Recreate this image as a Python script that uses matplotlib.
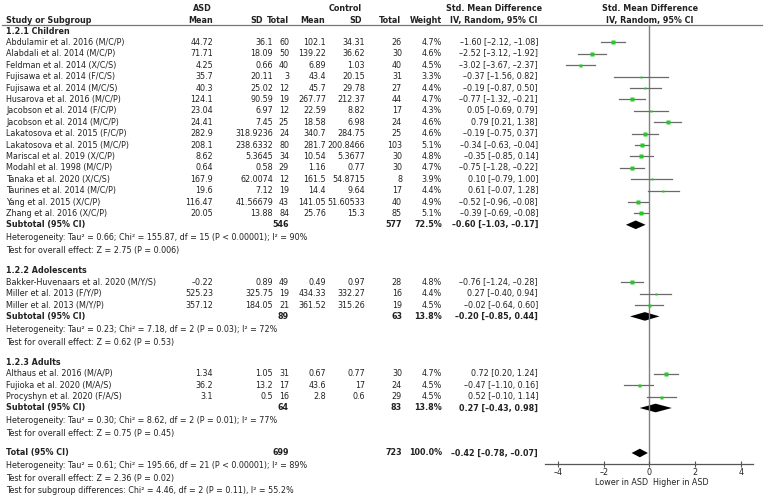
import matplotlib.pyplot as plt
from matplotlib.patches import Polygon

# ---- data ----
children_names = [
    "Abdulamir et al. 2016 (M/C/P)", "Alabdali et al. 2014 (M/C/P)",
    "Feldman et al. 2014 (X/C/S)", "Fujisawa et al. 2014 (F/C/S)",
    "Fujisawa et al. 2014 (M/C/S)", "Husarova et al. 2016 (M/C/P)",
    "Jacobson et al. 2014 (F/C/P)", "Jacobson et al. 2014 (M/C/P)",
    "Lakatosova et al. 2015 (F/C/P)", "Lakatosova et al. 2015 (M/C/P)",
    "Mariscal et al. 2019 (X/C/P)", "Modahl et al. 1998 (M/C/P)",
    "Tanaka et al. 2020 (X/C/S)", "Taurines et al. 2014 (M/C/P)",
    "Yang et al. 2015 (X/C/P)", "Zhang et al. 2016 (X/C/P)",
]
children_asd_mean = [44.72, 71.71, 4.25, 35.7, 40.3, 124.1, 23.04, 24.41,
                     282.9, 208.1, 8.62, 0.64, 167.9, 19.6, 116.47, 20.05]
children_asd_sd = [36.1, 18.09, 0.66, 20.11, 25.02, 90.59, 6.97, 7.45,
                   318.9236, 238.6332, 5.3645, 0.58, 62.0074, 7.12, 41.56679, 13.88]
children_asd_n = [60, 50, 40, 3, 12, 19, 12, 25, 24, 80, 34, 29, 12, 19, 43, 84]
children_ctl_mean = [102.1, 139.22, 6.89, 43.4, 45.7, 267.77, 22.59, 18.58,
                     340.7, 281.7, 10.54, 1.16, 161.5, 14.4, 141.05, 25.76]
children_ctl_sd = [34.31, 36.62, 1.03, 20.15, 29.78, 212.37, 8.82, 6.98,
                   284.75, 200.8466, 5.3677, 0.77, 54.8715, 9.64, 51.60533, 15.3]
children_ctl_n = [26, 30, 40, 31, 27, 44, 17, 24, 25, 103, 30, 30, 8, 17, 40, 85]
children_weight = [4.7, 4.6, 4.5, 3.3, 4.4, 4.7, 4.3, 4.6,
                   4.6, 5.1, 4.8, 4.7, 3.9, 4.4, 4.9, 5.1]
children_smd = [-1.60, -2.52, -3.02, -0.37, -0.19, -0.77, 0.05, 0.79,
                -0.19, -0.34, -0.35, -0.75, 0.10, 0.61, -0.52, -0.39]
children_lo = [-2.12, -3.12, -3.67, -1.56, -0.87, -1.32, -0.69, 0.21,
               -0.75, -0.63, -0.85, -1.28, -0.79, -0.07, -0.96, -0.69]
children_hi = [-1.08, -1.92, -2.37, 0.82, 0.50, -0.21, 0.79, 1.38,
               0.37, -0.04, 0.14, -0.22, 1.00, 1.28, -0.08, -0.08]

adol_names = ["Bakker-Huvenaars et al. 2020 (M/Y/S)", "Miller et al. 2013 (F/Y/P)",
              "Miller et al. 2013 (M/Y/P)"]
adol_asd_mean = [-0.22, 525.23, 357.12]
adol_asd_sd = [0.89, 325.75, 184.05]
adol_asd_n = [49, 19, 21]
adol_ctl_mean = [0.49, 434.33, 361.52]
adol_ctl_sd = [0.97, 332.27, 315.26]
adol_ctl_n = [28, 16, 19]
adol_weight = [4.8, 4.4, 4.5]
adol_smd = [-0.76, 0.27, -0.02]
adol_lo = [-1.24, -0.40, -0.64]
adol_hi = [-0.28, 0.94, 0.60]

adult_names = ["Althaus et al. 2016 (M/A/P)", "Fujioka et al. 2020 (M/A/S)",
               "Procyshyn et al. 2020 (F/A/S)"]
adult_asd_mean = [1.34, 36.2, 3.1]
adult_asd_sd = [1.05, 13.2, 0.5]
adult_asd_n = [31, 17, 16]
adult_ctl_mean = [0.67, 43.6, 2.8]
adult_ctl_sd = [0.77, 17, 0.6]
adult_ctl_n = [30, 24, 29]
adult_weight = [4.7, 4.5, 4.5]
adult_smd = [0.72, -0.47, 0.52]
adult_lo = [0.20, -1.10, -0.10]
adult_hi = [1.24, 0.16, 1.14]

group_titles = ["1.2.1 Children", "1.2.2 Adolescents", "1.2.3 Adults"]
sub_asd_n = [546, 89, 64]
sub_ctl_n = [577, 63, 83]
sub_weight = [72.5, 13.8, 13.8]
sub_smd = [-0.60, -0.20, 0.27]
sub_lo = [-1.03, -0.85, -0.43]
sub_hi = [-0.17, 0.44, 0.98]
sub_het = [
    "Heterogeneity: Tau\u00b2 = 0.66; Chi\u00b2 = 155.87, df = 15 (P < 0.00001); I\u00b2 = 90%",
    "Heterogeneity: Tau\u00b2 = 0.23; Chi\u00b2 = 7.18, df = 2 (P = 0.03); I\u00b2 = 72%",
    "Heterogeneity: Tau\u00b2 = 0.30; Chi\u00b2 = 8.62, df = 2 (P = 0.01); I\u00b2 = 77%",
]
sub_test = ["Test for overall effect: Z = 2.75 (P = 0.006)",
            "Test for overall effect: Z = 0.62 (P = 0.53)",
            "Test for overall effect: Z = 0.75 (P = 0.45)"]

total_asd_n, total_ctl_n, total_weight = 699, 723, 100.0
total_smd, total_lo, total_hi = -0.42, -0.78, -0.07
total_notes = [
    "Heterogeneity: Tau\u00b2 = 0.61; Chi\u00b2 = 195.66, df = 21 (P < 0.00001); I\u00b2 = 89%",
    "Test for overall effect: Z = 2.36 (P = 0.02)",
    "Test for subgroup differences: Chi\u00b2 = 4.46, df = 2 (P = 0.11), I\u00b2 = 55.2%",
]
x_ticks = [-4, -2, 0, 2, 4]

groups = [
    (children_names, children_asd_mean, children_asd_sd, children_asd_n,
     children_ctl_mean, children_ctl_sd, children_ctl_n,
     children_weight, children_smd, children_lo, children_hi),
    (adol_names, adol_asd_mean, adol_asd_sd, adol_asd_n,
     adol_ctl_mean, adol_ctl_sd, adol_ctl_n,
     adol_weight, adol_smd, adol_lo, adol_hi),
    (adult_names, adult_asd_mean, adult_asd_sd, adult_asd_n,
     adult_ctl_mean, adult_ctl_sd, adult_ctl_n,
     adult_weight, adult_smd, adult_lo, adult_hi),
]


def fmt(v):
    return str(v).replace("-", "\u2013")


def ci_text(e, lo, hi):
    return f"{e:.2f} [{lo:.2f}, {hi:.2f}]".replace("-", "\u2013")


# ---- layout (figure in pixel units) ----
W, H = 767, 498
FS = 5.8
TXT = "#222222"
ROW = 11.4
NOTE = 12.6

fig = plt.figure(figsize=(W / 100, H / 100), dpi=100)
tab = fig.add_axes([0, 0, 1, 1])
tab.set_xlim(0, W)
tab.set_ylim(H, 0)
tab.axis("off")

AX_TOP, AX_BOT = 24.5, 464
fp = fig.add_axes([545 / W, (H - AX_BOT) / H, (753 - 545) / W, (AX_BOT - AX_TOP) / H])
fp.set_xlim(-4.57, 4.53)
fp.set_ylim(AX_BOT, AX_TOP)
fp.patch.set_alpha(0)

# column right edges
X_NAME = 6
X_AMEAN, X_ASD, X_AN = 213, 273, 289
X_CMEAN, X_CSD, X_CN = 326, 365, 402
X_W, X_CI = 442, 538


def t(x, y, s, ha="right", bold=False):
    tab.text(x, y, s, ha=ha, va="center", fontsize=FS, color=TXT,
             fontweight="bold" if bold else "normal")


# headers
t(202, 8, "ASD", ha="center", bold=True)
t(345, 8, "Control", ha="center", bold=True)
t(494, 8, "Std. Mean Difference", ha="center", bold=True)
t(494, 20, "IV, Random, 95% CI", ha="center", bold=True)
t(650, 8, "Std. Mean Difference", ha="center", bold=True)
t(650, 20, "IV, Random, 95% CI", ha="center", bold=True)
t(X_NAME, 20, "Study or Subgroup", ha="left", bold=True)
for x, s in [(213, "Mean"), (263, "SD"), (289, "Total"),
             (325, "Mean"), (362, "SD"), (401, "Total"), (X_W, "Weight")]:
    t(x, 20, s, bold=True)
tab.plot([2, 762], [AX_TOP, AX_TOP], color="#777777", lw=0.9)


def diamond(y, e, lo, hi):
    fp.add_patch(Polygon([(lo, y), (e, y - 4.3), (hi, y), (e, y + 4.3)],
                         closed=True, color="black", lw=0))


y = 31
gaps = [0, 20.4, 20.4]
for gi, g in enumerate(groups):
    names, am, asd, an, cm, csd, cn, w, e, lo, hi = g
    y += gaps[gi]
    t(X_NAME, y, group_titles[gi], ha="left", bold=True)
    for i in range(len(names)):
        y += ROW
        t(X_NAME, y, names[i], ha="left")
        t(X_AMEAN, y, fmt(am[i]))
        t(X_ASD, y, fmt(asd[i]))
        t(X_AN, y, fmt(an[i]))
        t(X_CMEAN, y, fmt(cm[i]))
        t(X_CSD, y, fmt(csd[i]))
        t(X_CN, y, fmt(cn[i]))
        t(X_W, y, f"{w[i]:.1f}%")
        t(X_CI, y, ci_text(e[i], lo[i], hi[i]))
        fp.plot([lo[i], hi[i]], [y, y], color="#6a6a6a", lw=0.9, zorder=2)
        fp.plot(e[i], y, marker="s", ms=0.9 + w[i] * 0.28, color="#22cc22",
                mec="none", zorder=3)
    y += ROW
    t(X_NAME, y, "Subtotal (95% CI)", ha="left", bold=True)
    t(X_AN, y, fmt(sub_asd_n[gi]), bold=True)
    t(X_CN, y, fmt(sub_ctl_n[gi]), bold=True)
    t(X_W, y, f"{sub_weight[gi]:.1f}%", bold=True)
    t(X_CI, y, ci_text(sub_smd[gi], sub_lo[gi], sub_hi[gi]), bold=True)
    diamond(y, sub_smd[gi], sub_lo[gi], sub_hi[gi])
    y += NOTE + 0.4
    t(X_NAME, y, sub_het[gi], ha="left")
    y += NOTE
    t(X_NAME, y, sub_test[gi], ha="left")

y += 19.4
t(X_NAME, y, "Total (95% CI)", ha="left", bold=True)
t(X_AN, y, fmt(total_asd_n), bold=True)
t(X_CN, y, fmt(total_ctl_n), bold=True)
t(X_W, y, f"{total_weight:.1f}%", bold=True)
t(X_CI, y, ci_text(total_smd, total_lo, total_hi), bold=True)
diamond(y, total_smd, total_lo, total_hi)
for note in total_notes:
    y += NOTE
    t(X_NAME, y, note, ha="left")

# forest axis styling
fp.axvline(0, color="#808080", lw=1.0, zorder=1)
for s in ["top", "left", "right"]:
    fp.spines[s].set_visible(False)
fp.spines["bottom"].set_color("#555555")
fp.spines["bottom"].set_linewidth(0.9)
fp.set_yticks([])
fp.set_xticks(x_ticks)
fp.set_xticklabels([fmt(v) for v in x_ticks])
fp.tick_params(axis="x", direction="inout", length=5, width=0.8, color="#555555",
               labelsize=FS, labelcolor=TXT, pad=0.5)
tab.text(648, 482, "Lower in ASD", ha="right", va="center", fontsize=FS, color=TXT)
tab.text(653, 482, "Higher in ASD", ha="left", va="center", fontsize=FS, color=TXT)

fig.savefig("out.png", dpi=100)
